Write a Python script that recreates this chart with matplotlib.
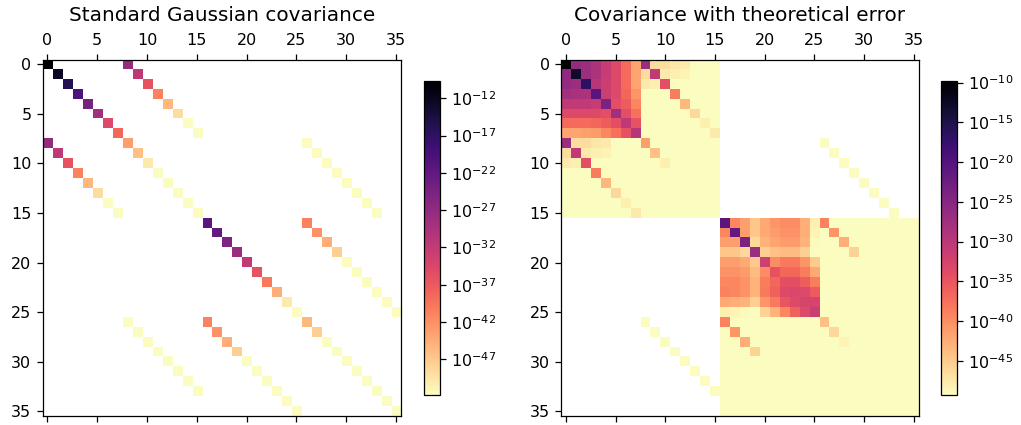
import numpy as np
import matplotlib
matplotlib.use("Agg")
import matplotlib.pyplot as plt
from matplotlib.colors import LogNorm

# All values are colour depths, turned into log10 values below.
LEFT_RANGE = (-9.64, -51.75)
RIGHT_RANGE = (-9.8, -49.3)
N_ELL = 36

left_diag = [0, .07, .15, .25, .35, .45, .6, .68, .8, .87, .96, 1, 1, 1, 1, 1,
             .28, .3, .37, .43, .53, .63, .72, .83, .96, 1, .85, .9, 1, 1, 1, 1, 1, 1, 1, 1]
left_cross_a = [.42, .52, .63, .74, .85, .93, 1, 1]
left_cross_b = [.74, .77, .83, .9, 1, 1, 1, 1, 1, 1]
left_cross_c = [1, 1, 1, 1, 1, 1, 1, 1]

right_block_a = [
    [0, .42, .44, .48, .54, .60, .69, .81],
    [.41, .08, .44, .48, .54, .60, .69, .81],
    [.42, .44, .17, .50, .55, .60, .69, .81],
    [.46, .47, .48, .27, .55, .60, .68, .78],
    [.52, .53, .53, .54, .36, .62, .66, .75],
    [.60, .60, .60, .60, .62, .45, .62, .70],
    [.69, .69, .69, .68, .66, .62, .52, .63],
    [.81, .81, .80, .79, .75, .70, .63, .50],
]
right_block_ab = [
    [.43, .93, .93, .95, .96, 1, 1, 1],
    [.93, .53, .96, .97, .98, 1, 1, 1],
    [.96, .97, .62, 1, 1, 1, 1, 1],
    [1, 1, 1, .73, 1, 1, 1, 1],
    [1, 1, 1, 1, .85, 1, 1, 1],
    [1, 1, 1, 1, 1, .92, 1, 1],
    [1, 1, 1, 1, 1, 1, .97, 1],
    [1, 1, 1, 1, 1, 1, 1, .96],
]
right_block_b_diag = [.8, .87, .97, 1, 1, 1, 1, 1]
right_block_c = [
    [.28, .75, .80, .88, .82, .78, .76, .76, .83, .97],
    [.75, .30, .80, .88, .82, .79, .77, .77, .83, .98],
    [.80, .80, .36, .92, .84, .81, .79, .79, .84, .99],
    [.88, .88, .92, .43, .90, .87, .86, .86, .90, 1],
    [.80, .80, .82, .89, .56, .76, .72, .72, .78, .89],
    [.77, .77, .79, .86, .76, .63, .68, .68, .73, .82],
    [.75, .75, .77, .84, .73, .68, .62, .62, .66, .73],
    [.74, .75, .77, .84, .72, .67, .60, .59, .60, .65],
    [.82, .83, .84, .90, .78, .72, .64, .60, .58, .58],
    [.97, .98, .99, 1, .91, .84, .75, .67, .60, .55],
]
right_cross_cd = [.74, .78, .83, .91, 1, 1, 1, 1, 1, 1]
right_block_d_diag = [.87, .92, .98, 1, 1, 1, 1, 1, 1, 1]
right_cross_bd = [1, 1, 1, 1, 1, 1, 1, 1]

TITLES = ["Standard Gaussian covariance", "Covariance with theoretical error"]
TICKS = [0, 5, 10, 15, 20, 25, 30, 35]


def to_log(depth, rng):
    return rng[0] + (rng[1] - rng[0]) * np.asarray(depth, dtype=float)


def left_matrix():
    m = np.full((N_ELL, N_ELL), np.nan)
    m[np.arange(N_ELL), np.arange(N_ELL)] = to_log(left_diag, LEFT_RANGE)
    for i, d in enumerate(left_cross_a):
        m[i, 8 + i] = m[8 + i, i] = to_log(d, LEFT_RANGE)
    for i, d in enumerate(left_cross_b):
        m[16 + i, 26 + i] = m[26 + i, 16 + i] = to_log(d, LEFT_RANGE)
    for i, d in enumerate(left_cross_c):
        m[8 + i, 26 + i] = m[26 + i, 8 + i] = to_log(d, LEFT_RANGE)
    return 10.0 ** m


def right_matrix():
    m = np.full((N_ELL, N_ELL), np.nan)
    base = 0.998
    m[:16, :16] = to_log(base, RIGHT_RANGE)
    m[16:, 16:] = to_log(base, RIGHT_RANGE)
    m[:8, :8] = to_log(right_block_a, RIGHT_RANGE)
    ab = to_log(np.minimum(right_block_ab, base), RIGHT_RANGE)
    m[:8, 8:16] = ab
    m[8:16, :8] = ab
    m[np.arange(8, 16), np.arange(8, 16)] = to_log(np.minimum(right_block_b_diag, base), RIGHT_RANGE)
    m[16:26, 16:26] = to_log(right_block_c, RIGHT_RANGE)
    for i, d in enumerate(right_cross_cd):
        m[16 + i, 26 + i] = m[26 + i, 16 + i] = to_log(min(d, base), RIGHT_RANGE)
    for i, d in enumerate(right_block_d_diag):
        m[26 + i, 26 + i] = to_log(min(d, base), RIGHT_RANGE)
    for i, d in enumerate(right_cross_bd):
        m[8 + i, 26 + i] = m[26 + i, 8 + i] = to_log(min(d, base), RIGHT_RANGE)
    return 10.0 ** m


W, H = 1021, 425


def box(x0, y0, x1, y1):
    return [x0 / W, 1 - y1 / H, (x1 - x0) / W, (y1 - y0) / H]


fig = plt.figure(figsize=(W / 100, H / 100), dpi=100)
panels = [
    (left_matrix(), LEFT_RANGE, box(42.5, 59.5, 401, 416), box(423.5, 80.7, 440, 394.7), TITLES[0], -12),
    (right_matrix(), RIGHT_RANGE, box(561, 59.5, 918.5, 416), box(941, 81, 957, 395), TITLES[1], -10),
]
for mat, rng, ax_box, cb_box, title, first in panels:
    ax = fig.add_axes(ax_box)
    im = ax.imshow(mat, cmap="magma_r", aspect="auto", interpolation="nearest",
                   norm=LogNorm(vmin=10.0 ** rng[1], vmax=10.0 ** rng[0]))
    ax.xaxis.tick_top()
    ax.set_xticks(TICKS)
    ax.set_yticks(TICKS)
    ax.tick_params(labelsize=11.5, length=4, width=0.9, pad=4, bottom=True, top=True,
                   labelbottom=False, labeltop=True)
    for s in ax.spines.values():
        s.set_linewidth(0.9)
    ax.set_title(title, fontsize=14.4, pad=9)
    cax = fig.add_axes(cb_box)
    cb = fig.colorbar(im, cax=cax)
    cb.set_ticks([10.0 ** e for e in range(first, int(rng[1]), -5)])
    cb.ax.minorticks_off()
    cb.ax.tick_params(labelsize=11.5, length=4, width=0.9, pad=4)
    cb.outline.set_linewidth(0.9)

fig.savefig("out.png", dpi=100)
